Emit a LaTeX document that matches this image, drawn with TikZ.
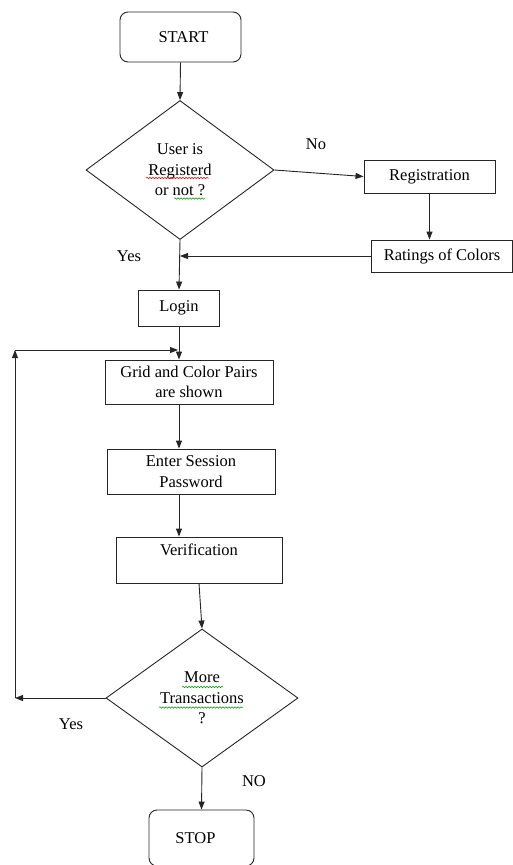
\documentclass[tikz,border=0pt]{standalone}
\usepackage{fontspec}
\setmainfont{Liberation Serif}
\usetikzlibrary{shapes.geometric,arrows.meta,decorations.pathmorphing}

\definecolor{spellgreen}{RGB}{0,150,0}

\begin{document}
\begin{tikzpicture}[x=1pt,y=-1pt,
    font=\fontsize{16.5}{20.5}\selectfont,
    every node/.style={inner sep=0pt},
    process/.style={draw=black!85, line width=.9pt, align=center},
    terminal/.style={process, rounded corners=8pt},
    decision/.style={draw=black!85, line width=.9pt, shape=diamond, align=center},
    flow/.style={draw=black!85, line width=.9pt, -{Triangle[length=8pt,width=6pt]}},
    spelling/.style={draw=#1, line width=.5pt, decorate,
      decoration={snake, amplitude=.8pt, segment length=3pt}}]
    \useasboundingbox (0,0) rectangle (513,865);
    \clip (0,0) rectangle (513,865);

    \node[terminal, minimum width=121, minimum height=50] (start) at (180.5,37) {\hspace*{6pt}START};
    \node[decision, minimum width=188, minimum height=139] (registered) at (180,170)
      {User is\\Registerd\\or not ?};
    \node[process, minimum width=131, minimum height=33] (registration) at (429.5,176.5) {Registration};
    \node[process, minimum width=141, minimum height=32] (ratings) at (442,256) {Ratings of Colors};
    \node[process, minimum width=81, minimum height=36] (login) at (179,308) {Login};
    \node[process, minimum width=168, minimum height=44] (grid) at (189,382) {Grid and Color Pairs\\are shown};
    \node[process, minimum width=168, minimum height=45] (session) at (191,471.5) {Enter Session\\Password};
    \node[process, minimum width=166, minimum height=46] (verification) at (199,560) {Verification\\~};
    \node[decision, minimum width=192, minimum height=138] (more) at (202,698)
      {More\\Transactions\\?};
    \node[terminal, minimum width=105, minimum height=56] (stop) at (201.5,838) {STOP\hspace*{12pt}};

    % labels
    \node (no) at (316,144) {No};
    \node (yesreg) at (129,256) {Yes};
    \node (yesmore) at (71,724) {Yes};
    \node (nomore) at (254,781) {NO};

    % spell-check marks
    \path[spelling=red] ([shift={(-34,8)}]registered.center) -- ([shift={(29,8)}]registered.center);
    \path[spelling=spellgreen] ([shift={(-6,28.5)}]registered.center) -- ([shift={(25,28.5)}]registered.center);
    \path[spelling=spellgreen] ([shift={(-20,-11)}]more.center) -- ([shift={(21,-11)}]more.center);
    \path[spelling=spellgreen] ([shift={(-43,9.5)}]more.center) -- ([shift={(41,9.5)}]more.center);

    \coordinate (loopbot) at (15,698);
    \coordinate (looptop) at (15,350);
    \coordinate (join) at (178,350);

    \draw[flow] (start.south) -- (registered.north);
    \draw[flow] (registered.east) -- (registration.west);
    \draw[flow] (registration.south) -- (registration.south |- ratings.north);
    \draw[flow] (ratings.west) -- (ratings.west -| registered.south);
    \draw[flow] (registered.south) -- (login.north);
    \draw[flow] (login.south) -- (login.south |- grid.north);
    \draw[flow] (login.south |- grid.south) -- (login.south |- session.north);
    \draw[flow] (login.south |- session.south) -- (login.south |- verification.north);
    \draw[flow] (verification.south) -- (more.north);
    \draw[flow] (more.west) -- (loopbot);
    \draw[flow] (loopbot) -- (looptop);
    \draw[flow] (looptop) -- (join);
    \draw[flow] (more.south) -- (stop.north);
\end{tikzpicture}
\end{document}
